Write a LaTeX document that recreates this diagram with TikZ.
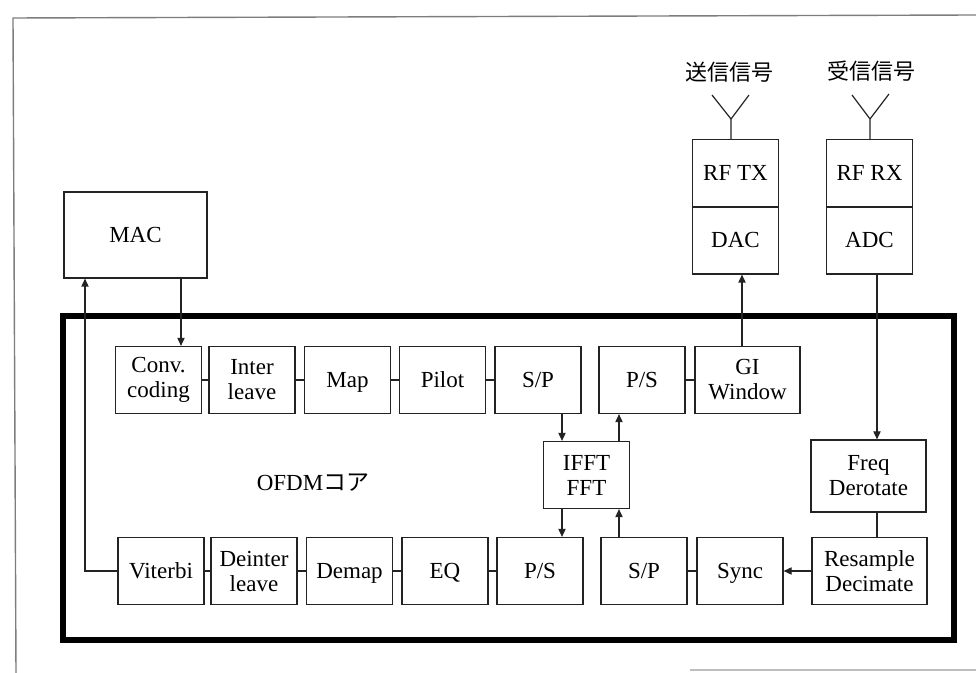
\documentclass[tikz,border=0pt]{standalone}
\usepackage{fontspec}
\setmainfont{Liberation Serif}
\newfontfamily\jpfont{Noto Sans CJK JP}
\usepackage{tikz}
\usetikzlibrary{arrows.meta, positioning}
\definecolor{myink}{RGB}{35,35,35}
\definecolor{myframe}{RGB}{125,125,125}
\definecolor{myfaint}{RGB}{190,190,190}
\tikzset{
  block/.style={rectangle, draw=myink, fill=white,
    minimum width=43pt, minimum height=33.5pt, align=center,
    font=\fontsize{11.5}{12.5}\selectfont, inner sep=1pt, line width=0.6pt},
  oneline/.style={block, text height=7.6pt, text depth=0.4pt},
  wideblock/.style={block, minimum width=57.5pt},
  macblock/.style={oneline, minimum width=71.5pt, minimum height=43pt},
  jplabel/.style={font=\jpfont\fontsize{11}{13}\selectfont, inner sep=1pt},
  arrow/.style={-{Triangle[length=4pt,width=3.6pt]}, line width=0.6pt, color=myink},
  line/.style={line width=0.6pt, color=myink},
  core/.style={line width=3.2pt, color=black},
  pageframe/.style={line width=0.7pt, color=myframe}
}

\begin{document}
\begin{tikzpicture}[x=0.5pt, y=-0.5pt]
  \useasboundingbox (0,0) rectangle (976,673);
  \draw[pageframe] (976,15) -- (13,18) -- (16,673);
  \draw[pageframe, color=myfaint] (690,670) -- (976,670);

  \draw[core] (63,316) rectangle (954,640);
  \node[font=\fontsize{11.5}{13}\selectfont] (corelabel) at (313,483) {OFDM{\jpfont コア}};

  % outside the core
  \node[macblock] (mac) at (135.5,235) {MAC};
  \node[oneline] (rftx) at (735.5,173) {RF TX};
  \node[oneline] (dac) at (735.5,240.5) {DAC};
  \node[oneline] (rfrx) at (869.5,173) {RF RX};
  \node[oneline] (adc) at (869.5,240.5) {ADC};

  % transmit chain
  \node[block] (conv) at (158.5,380) {Conv.\\coding};
  \node[block] (inter) at (252,380) {Inter\\leave};
  \node[oneline] (map) at (347.5,380) {Map};
  \node[oneline] (pilot) at (442.5,380) {Pilot};
  \node[oneline] (sptx) at (538,380) {S/P};
  \node[oneline] (pstx) at (642,380) {P/S};
  \node[block, minimum width=52.5pt] (gi) at (747.5,380) {GI\\Window};
  \node[block] (fft) at (586.5,475) {IFFT\\FFT};

  % receive chain
  \node[oneline] (viterbi) at (161,571) {Viterbi};
  \node[block] (deint) at (254,571) {Deinter\\leave};
  \node[oneline] (demap) at (349.5,571) {Demap};
  \node[oneline] (eq) at (445,571) {EQ};
  \node[oneline] (psrx) at (540,571) {P/S};
  \node[oneline] (sprx) at (644,571) {S/P};
  \node[oneline] (sync) at (740,571) {Sync};
  \node[wideblock, minimum height=36pt] (freq) at (868.5,476) {Freq\\Derotate};
  \node[wideblock] (resamp) at (869.5,571) {Resample\\Decimate};

  \coordinate (tapmac) at (181,0);
  \coordinate (tapvit) at (85,0);
  \coordinate (tapin) at (562,0);
  \coordinate (tapout) at (619,0);
  \coordinate (tapdac) at (742,0);
  \coordinate (tapadc) at (877,0);

  \draw[arrow] (mac.south -| tapmac) -- (conv.north -| tapmac);
  \draw[arrow] (viterbi.west) -| (mac.south -| tapvit);

  \draw[line] (conv) -- (inter);
  \draw[line] (inter) -- (map);
  \draw[line] (map) -- (pilot);
  \draw[line] (pilot) -- (sptx);
  \draw[line] (pstx) -- (gi);
  \draw[arrow] (sptx.south -| tapin) -- (fft.north -| tapin);
  \draw[arrow] (fft.north -| tapout) -- (pstx.south -| tapout);
  \draw[arrow] (gi.north -| tapdac) -- (dac.south -| tapdac);

  \draw[arrow] (adc.south -| tapadc) -- (freq.north -| tapadc);
  \draw[line] (freq.south -| tapadc) -- (resamp.north -| tapadc);
  \draw[arrow] (resamp) -- (sync);
  \draw[line] (sync) -- (sprx);
  \draw[arrow] (sprx.north -| tapout) -- (fft.south -| tapout);
  \draw[arrow] (fft.south -| tapin) -- (psrx.north -| tapin);
  \draw[line] (psrx) -- (eq);
  \draw[line] (eq) -- (demap);
  \draw[line] (demap) -- (deint);
  \draw[line] (deint) -- (viterbi);

  % antennas
  \coordinate (txant) at (731,119);
  \coordinate (rxant) at (870,119);
  \draw[line] (rftx.north -| txant) -- (txant) -- ++(-19,-24);
  \draw[line] (txant) -- ++(18,-24);
  \draw[line] (rfrx.north -| rxant) -- (rxant) -- ++(-18,-24);
  \draw[line] (rxant) -- ++(19,-25);
  \node[jplabel] (txlabel) at (729,72) {送信信号};
  \node[jplabel] (rxlabel) at (871,71) {受信信号};
\end{tikzpicture}
\end{document}
